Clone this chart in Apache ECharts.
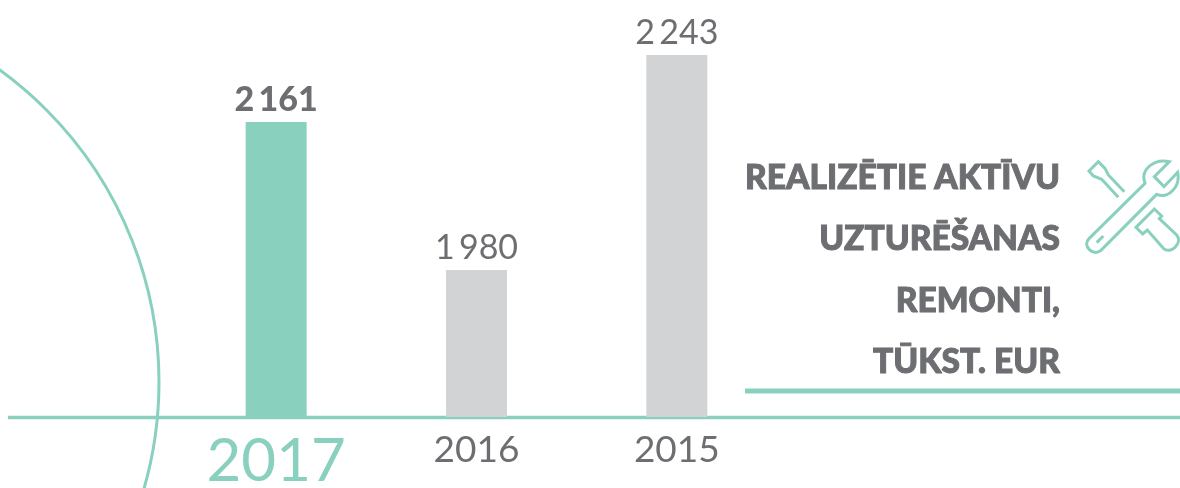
<!DOCTYPE html>
<html>
<head>
<meta charset="utf-8">
<style>
  html, body { margin: 0; padding: 0; background: #fff; }
  #chart { width: 1180px; height: 488px; }
</style>
<script src="https://cdn.jsdelivr.net/npm/echarts@6/dist/echarts.min.js"></script>
</head>
<body>
<div id="chart"></div>
<script>
const categories = ['2017', '2016', '2015']
const values = [2161, 1980, 2243]
const titleLines = ['REALIZĒTIE AKTĪVU', 'UZTURĒŠANAS', 'REMONTI,', 'TŪKST. EUR']

const teal = '#8AD0BF'
const grey = '#D1D3D4'
const textGrey = '#6D6E71'
const font = 'Lato'

// 1 980 -> thousands split by a thin space
const fmt = v => String(v).replace(/\B(?=(\d{3})+$)/, '\u2009')

// icon outlines, 3x coordinates
const iconPaths = {
  wrench: 'M328 65L283 110L312 140L353 97C362 140 325 178 290 163L122 332C100 350 65 318 87 296L255 130C240 90 280 55 328 65ZM110 308L130 288',
  driver: 'M175 172L125 118L100 108L87 93L115 65L135 85L145 105L193 155',
  roller: 'M283 207L228 262L248 282L262 270L310 325C330 345 370 310 350 285L298 236L305 228Z'
}
Object.keys(iconPaths).forEach(k => {
  echarts.graphic.registerShape(k, echarts.graphic.extendPath(iconPaths[k], {}))
})
const iconStyle = { stroke: teal, fill: 'none', lineWidth: 9 }

const chart = echarts.init(document.getElementById('chart'))
chart.setOption({
  animation: false,
  backgroundColor: '#fff',
  title: {
    text: titleLines.join('\n'),
    left: 1055,
    top: 142,
    textAlign: 'right',
    textStyle: {
      fontFamily: font,
      fontSize: 33.5,
      fontWeight: 900,
      lineHeight: 61.5,
      color: textGrey,
      // the source face is heavier than Lato's heaviest here
      textBorderColor: textGrey,
      textBorderWidth: 1
    }
  },
  grid: { left: 176, width: 601, top: 55, height: 362, outerBoundsMode: 'none' },
  xAxis: {
    type: 'category',
    data: categories,
    axisLine: { show: false },
    axisTick: { show: false },
    axisLabel: {
      margin: 15,
      fontFamily: font,
      fontSize: 37,
      color: textGrey,
      interval: 0,
      formatter: (v, i) => i === 0 ? `{cur|${v}}` : v,
      rich: {
        cur: { fontFamily: font, fontSize: 60, color: teal }
      }
    }
  },
  // the source bars start from a cut axis, not from zero
  yAxis: { type: 'value', min: 1800, max: 2243, show: false },
  series: [{
    type: 'bar',
    barWidth: 61,
    data: values.map((v, i) => ({
      value: v,
      itemStyle: { color: i === 0 ? teal : grey },
      label: { fontWeight: i === 0 ? 900 : 400 }
    })),
    label: {
      show: true,
      position: 'top',
      distance: 5,
      fontFamily: font,
      fontSize: 34,
      color: textGrey,
      formatter: p => fmt(p.value)
    }
  }],
  graphic: [
    // baseline
    { type: 'line', z: 0, shape: { x1: 8, y1: 417.5, x2: 1180, y2: 417.5 }, style: { stroke: teal, lineWidth: 3.5 } },
    // rule under the title
    { type: 'line', shape: { x1: 745, y1: 391, x2: 1180, y2: 391 }, style: { stroke: teal, lineWidth: 5 } },
    // big circle on the left
    {
      type: 'arc',
      shape: { cx: -226, cy: 382, r: 385, startAngle: -Math.PI / 2, endAngle: Math.PI / 2 },
      style: { stroke: teal, fill: 'none', lineWidth: 3 }
    },
    // tools icon
    {
      type: 'group',
      x: 1060,
      y: 140,
      scaleX: 1 / 3,
      scaleY: 1 / 3,
      children: Object.keys(iconPaths).map(k => ({ type: k, style: iconStyle }))
    }
  ]
})
</script>
</body>
</html>
